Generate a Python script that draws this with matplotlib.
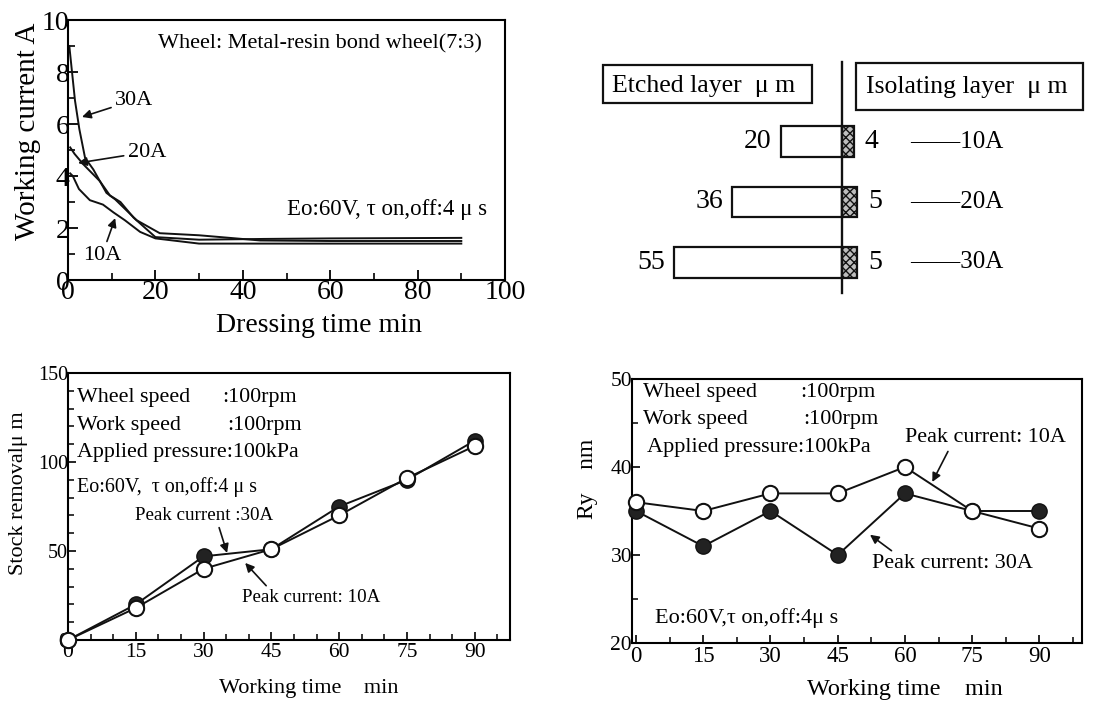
import matplotlib
matplotlib.use("Agg")
import matplotlib.pyplot as plt
from matplotlib.patches import Rectangle
import numpy as np

plt.rcParams['font.family'] = ['Liberation Serif', 'DejaVu Serif']
plt.rcParams['axes.linewidth'] = 1.5

W, H = 1112, 704

# ---------------- data ----------------
# Top-left: working current vs dressing time
t_30A = [0.3, 1.6, 2.6, 3.9, 5.8, 8.8, 10.8, 15.7, 21, 30, 44, 60, 90]
i_30A = [9.0, 6.9, 5.8, 4.7, 4.25, 3.35, 3.1, 2.3, 1.8, 1.72, 1.52, 1.5, 1.5]
t_20A = [0.5, 1.5, 3.5, 7.3, 9.6, 12, 15, 20, 30, 45, 60, 90]
i_20A = [5.1, 4.85, 4.45, 3.8, 3.25, 3.0, 2.4, 1.65, 1.55, 1.58, 1.6, 1.62]
t_10A = [0.5, 1.1, 2.5, 5, 8, 10.4, 13, 16.5, 20, 30, 45, 60, 90]
i_10A = [4.1, 4.0, 3.5, 3.07, 2.9, 2.6, 2.3, 1.85, 1.6, 1.4, 1.4, 1.4, 1.4]

# Top-right: layer thickness
currents = ['10A', '20A', '30A']
etched = [20, 36, 55]
isolating = [4, 5, 5]

# Bottom: working time series
work_time = [0, 15, 30, 45, 60, 75, 90]
stock_30A = [0, 20, 47, 51, 75, 90, 112]
stock_10A = [0, 18, 40, 51, 70, 91, 109]
ry_10A = [36, 35, 37, 37, 40, 35, 33]
ry_30A = [35, 31, 35, 30, 37, 35, 35]

fig = plt.figure(figsize=(W / 100, H / 100), dpi=100)


def ax_px(l, t, r, b):
    return fig.add_axes([l / W, 1 - b / H, (r - l) / W, (b - t) / H])


LC = '#111111'
arrow = dict(arrowstyle='-|>', color=LC, lw=1.2, mutation_scale=13, shrinkA=1, shrinkB=0)

# ---------------- top-left ----------------
ax1 = ax_px(68, 20, 505, 280)
ax1.plot(t_30A, i_30A, color=LC, lw=1.4)
ax1.plot(t_20A, i_20A, color=LC, lw=1.4)
ax1.plot(t_10A, i_10A, color=LC, lw=1.4)
ax1.set_xlim(0, 100)
ax1.set_ylim(0, 10)
ax1.set_xticks(np.arange(0, 101, 20))
ax1.set_xticks(np.arange(0, 101, 10), minor=True)
ax1.set_yticks(np.arange(0, 11, 2))
ax1.set_yticks(np.arange(0, 11, 1), minor=True)
ax1.tick_params(which='both', direction='in', labelsize=20, pad=0)
ax1.tick_params(axis='y', pad=-1)
ax1.tick_params(which='major', length=7, width=1.3)
ax1.tick_params(which='minor', length=5, width=1.2)
ax1.text(-0.092, 0.57, 'Working current A', transform=ax1.transAxes, rotation=90,
         ha='center', va='center', fontsize=21)
ax1.text(0.574, -0.175, 'Dressing time min', transform=ax1.transAxes,
         ha='center', va='center', fontsize=20)
ax1.text(0.947, 0.91, 'Wheel: Metal-resin bond wheel(7:3)', transform=ax1.transAxes,
         ha='right', va='center', fontsize=16)
ax1.text(0.96, 0.27, 'Eo:60V, τ on,off:4 μ s', transform=ax1.transAxes,
         ha='right', va='center', fontsize=16.5)
ax1.annotate('30A', xy=(3.2, 6.27), xytext=(10.8, 6.92), fontsize=16,
             ha='left', va='center', arrowprops=arrow)
ax1.annotate('20A', xy=(2.3, 4.5), xytext=(13.7, 4.92), fontsize=16,
             ha='left', va='center', arrowprops=arrow)
ax1.annotate('10A', xy=(10.8, 2.38), xytext=(7.8, 0.96), fontsize=16,
             ha='center', va='center', arrowprops=arrow)

# ---------------- top-right ----------------
ax2 = ax_px(590, 55, 1100, 300)
scale = 3.05
X0 = 842
x_of = lambda px: (px - X0) / scale
y_of = lambda py: (py - 141.5) / 60.5
ax2.set_xlim(x_of(590), x_of(1100))
ax2.set_ylim(y_of(300), y_of(55))
ax2.axis('off')
ypos = np.arange(len(currents))
ax2.barh(ypos, [-e for e in etched], height=0.51, color='white', edgecolor=LC, lw=1.6)
ax2.barh(ypos, isolating, height=0.51, color='#bdbdbd', edgecolor=LC, lw=1.6,
         hatch='xxxx')
ax2.plot([0, 0], [y_of(62), y_of(293)], color=LC, lw=1.7)
for y, e, iso, c in zip(ypos, etched, isolating, currents):
    ax2.text(-e - 3, y, str(e), ha='right', va='center', fontsize=20)
    ax2.text(iso + 3.5, y, str(iso), ha='left', va='center', fontsize=20)
    ax2.text(22.5, y, '——' + c, ha='left', va='center', fontsize=18)
ax2.add_patch(Rectangle((x_of(603), y_of(103)), x_of(812) - x_of(603),
                        y_of(65) - y_of(103), fc='white', ec=LC, lw=1.6))
ax2.add_patch(Rectangle((x_of(856), y_of(110)), x_of(1083) - x_of(856),
                        y_of(63) - y_of(110), fc='white', ec=LC, lw=1.6))
ax2.text(x_of(704), y_of(86), 'Etched layer  μ m', ha='center', va='center',
         fontsize=18.5)
ax2.text(x_of(967), y_of(87), 'Isolating layer  μ m', ha='center', va='center',
         fontsize=18.5)

# ---------------- bottom-left ----------------
ax3 = ax_px(68, 373, 510, 640)
ax3.plot(work_time, stock_30A, color=LC, lw=1.4, marker='o', ms=11,
         mfc='#222222', mec=LC, clip_on=False, zorder=3)
ax3.plot(work_time, stock_10A, color=LC, lw=1.4, marker='o', ms=11,
         mfc='white', mec=LC, mew=1.5, clip_on=False, zorder=4)
ax3.set_xlim(0, 97.8)
ax3.set_ylim(0, 150)
ax3.set_xticks(work_time)
ax3.set_xticks(np.arange(0, 98, 5), minor=True)
ax3.set_yticks([0, 50, 100, 150])
ax3.set_yticks(np.arange(0, 151, 10), minor=True)
ax3.tick_params(which='both', direction='in', labelsize=15.5, pad=2)
ax3.tick_params(axis='y', labelsize=14.5, pad=0)
ax3.tick_params(which='major', length=6, width=1.2)
ax3.tick_params(which='minor', length=4, width=1.1)
ax3.text(-0.113, 0.55, 'Stock removalμ m', transform=ax3.transAxes, rotation=90,
         ha='center', va='center', fontsize=16)
ax3.text(0.545, -0.18, 'Working time    min', transform=ax3.transAxes,
         ha='center', va='center', fontsize=16)
for yy, lab, val, vx in [(0.91, 'Wheel speed', ':100rpm', 0.348),
                         (0.805, 'Work speed', ':100rpm', 0.36)]:
    ax3.text(0.02, yy, lab, transform=ax3.transAxes, ha='left', va='center', fontsize=15.8)
    ax3.text(vx, yy, val, transform=ax3.transAxes, ha='left', va='center', fontsize=15.8)
ax3.text(0.02, 0.704, 'Applied pressure:100kPa', transform=ax3.transAxes,
         ha='left', va='center', fontsize=15.8)
ax3.text(0.02, 0.573, 'Eo:60V,  τ on,off:4 μ s', transform=ax3.transAxes,
         ha='left', va='center', fontsize=14.4)
ax3.annotate('Peak current :30A', xy=(35.2, 48.9), xytext=(14.8, 70.2), fontsize=13.7,
             ha='left', va='center',
             arrowprops=dict(arrow, relpos=(0.6, 0)))
ax3.annotate('Peak current: 10A', xy=(39.2, 43.3), xytext=(38.5, 23.6), fontsize=13.7,
             ha='left', va='center',
             arrowprops=dict(arrow, relpos=(0.2, 1)))

# ---------------- bottom-right ----------------
ax4 = ax_px(632, 379, 1082, 643)
ax4.plot(work_time, ry_30A, color=LC, lw=1.4, marker='o', ms=11,
         mfc='#222222', mec=LC, clip_on=False, zorder=3)
ax4.plot(work_time, ry_10A, color=LC, lw=1.4, marker='o', ms=11,
         mfc='white', mec=LC, mew=1.5, clip_on=False, zorder=4)
ax4.set_xlim(-0.9, 99.5)
ax4.set_ylim(20, 50)
ax4.set_xticks(work_time)
ax4.set_xticks(np.arange(0, 99, 7.5), minor=True)
ax4.set_yticks([20, 30, 40, 50])
ax4.set_yticks(np.arange(20, 51, 5), minor=True)
ax4.tick_params(which='both', direction='in', labelsize=16.5, pad=2)
ax4.tick_params(axis='y', labelsize=15.5, pad=0)
ax4.tick_params(which='major', length=6, width=1.2)
ax4.tick_params(which='minor', length=4, width=1.1)
ax4.text(-0.1, 0.62, 'Ry    nm', transform=ax4.transAxes, rotation=90,
         ha='center', va='center', fontsize=17)
ax4.text(0.607, -0.178, 'Working time    min', transform=ax4.transAxes,
         ha='center', va='center', fontsize=17.5)
for yy, lab, val, vx in [(0.95, 'Wheel speed', ':100rpm', 0.374),
                         (0.845, 'Work speed', ':100rpm', 0.38)]:
    ax4.text(0.024, yy, lab, transform=ax4.transAxes, ha='left', va='center', fontsize=16)
    ax4.text(vx, yy, val, transform=ax4.transAxes, ha='left', va='center', fontsize=16)
ax4.text(0.033, 0.742, 'Applied pressure:100kPa', transform=ax4.transAxes,
         ha='left', va='center', fontsize=16)
ax4.text(0.051, 0.095, 'Eo:60V,τ on,off:4μ s', transform=ax4.transAxes,
         ha='left', va='center', fontsize=16)
ax4.annotate('Peak current: 10A', xy=(66.1, 38.3), xytext=(60, 43.3), fontsize=15.9,
             ha='left', va='center',
             arrowprops=dict(arrow, relpos=(0.28, 0)))
ax4.annotate('Peak current: 30A', xy=(52.2, 32.3), xytext=(52.7, 29.0), fontsize=15.9,
             ha='left', va='center',
             arrowprops=dict(arrow, relpos=(0.15, 1)))

fig.savefig('out.png', dpi=100)
